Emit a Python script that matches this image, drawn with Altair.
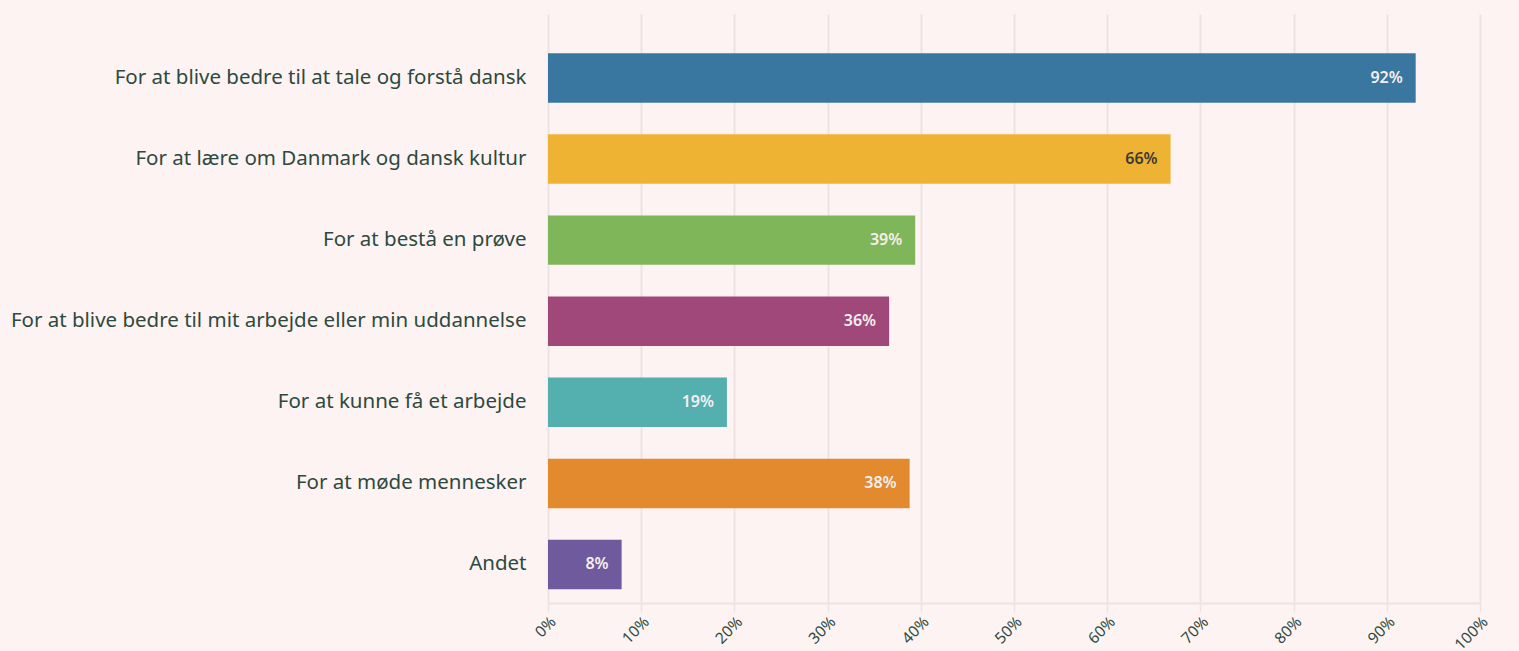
import altair as alt
import pandas as pd

categories = [
    "For at blive bedre til at tale og forstå dansk",
    "For at lære om Danmark og dansk kultur",
    "For at bestå en prøve",
    "For at blive bedre til mit arbejde eller min uddannelse",
    "For at kunne få et arbejde",
    "For at møde mennesker",
    "Andet",
]
values = [93.1, 66.8, 39.4, 36.6, 19.2, 38.8, 7.9]
labels = ["92%", "66%", "39%", "36%", "19%", "38%", "8%"]
colors = ["#3a77a0", "#efb334", "#80b65a", "#a0487a", "#53b0ae", "#e3892e", "#6e5a9c"]
label_colors = ["#f6eeee", "#3b3b38", "#f6eeee", "#f6eeee", "#f6eeee", "#f6eeee", "#f6eeee"]

df = pd.DataFrame({
    "cat": categories,
    "value": values,
    "label": labels,
    "color": colors,
    "lcolor": label_colors,
})

FONT = "Noto Sans"
TEXT = "#2d4a40"

y = alt.Y("cat:N", sort=categories, title=None,
          scale=alt.Scale(paddingInner=0.39, paddingOuter=0.327, align=0.74),
          axis=alt.Axis(labelFontSize=20.5, labelFont=FONT, labelColor=TEXT,
                        labelPadding=22, ticks=False, domain=False, labelLimit=600))
x = alt.X("value:Q", title=None,
          scale=alt.Scale(domain=[0, 100]),
          axis=alt.Axis(values=list(range(0, 101, 10)), labelExpr="datum.value + '%'",
                        labelAngle=-45, labelFontSize=15.5, labelFont=FONT, labelColor=TEXT,
                        grid=True, gridColor="#ece3e2", gridWidth=2,
                        domainColor="#ece3e2", domainWidth=2,
                        tickColor="#ece3e2", tickSize=9, tickWidth=1.5, labelPadding=2))

bars = alt.Chart(df).mark_bar().encode(
    x=x, y=y,
    color=alt.Color("color:N", scale=None, legend=None),
)
text = alt.Chart(df).mark_text(align="right", dx=-13, fontSize=16, font=FONT,
                               fontWeight=600).encode(
    x="value:Q", y=alt.Y("cat:N", sort=categories),
    text="label:N",
    color=alt.Color("lcolor:N", scale=None, legend=None),
)

chart = (bars + text).properties(
    width=932, height=589,
    background="#fdf3f2",
    autosize=alt.AutoSizeParams(type="none"),
    padding={"left": 548, "top": 14, "right": 39, "bottom": 48},
).configure_view(stroke=None)

chart.save("out.html", embed_options={"renderer": "svg", "actions": False})
